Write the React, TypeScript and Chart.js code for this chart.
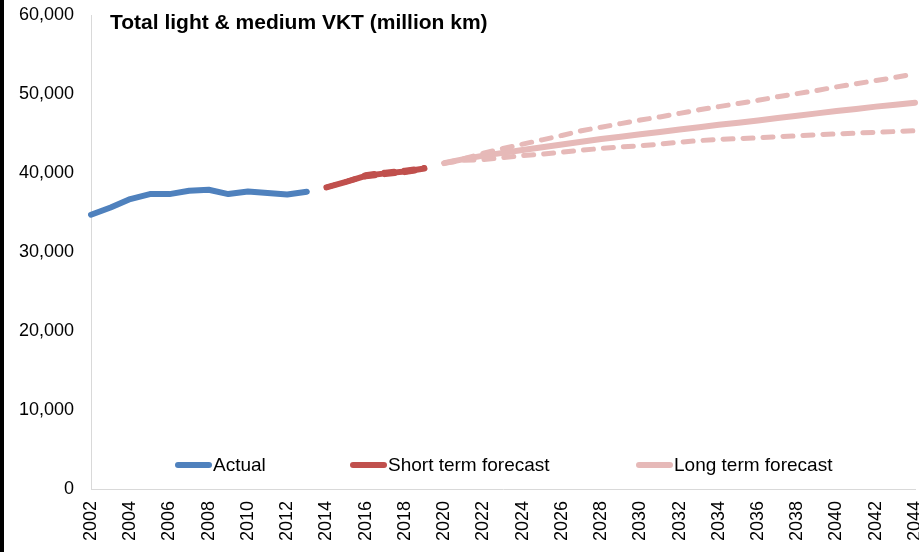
import React, { useEffect, useRef } from "react";
import { Chart, registerables } from "chart.js";

Chart.register(...registerables);

const years = [
  "2002", "2003", "2004", "2005", "2006", "2007", "2008", "2009", "2010", "2011",
  "2012", "2013", "2014", "2015", "2016", "2017", "2018", "2019", "2020", "2021",
  "2022", "2023", "2024", "2025", "2026", "2027", "2028", "2029", "2030", "2031",
  "2032", "2033", "2034", "2035", "2036", "2037", "2038", "2039", "2040", "2041",
  "2042", "2043", "2044",
];

const seriesNames = ["Actual", "Short term forecast", "Long term forecast"];
const chartTitle = "Total light & medium VKT (million km)";

// Actual: 2002-2013
const actualStart = "2002";
const actual = [34720, 35640, 36700, 37330, 37330, 37750, 37880, 37330, 37670, 37460, 37290, 37630];

// Short term forecast: 2014-2019
const shortStart = "2014";
const shortTerm = [38170, 38890, 39650, 39950, 40200, 40570];
const shortTermHigh = [38170, 38890, 39790, 40100, 40350, 40700];
const shortTermLow = [38170, 38890, 39520, 39800, 40050, 40440];

// Long term forecast: 2020-2044
const longStart = "2020";
const longTerm = [
  41250, 41750, 42200, 42550, 42900, 43250, 43600, 43950, 44300, 44600,
  44900, 45200, 45500, 45800, 46100, 46350, 46650, 46950, 47250, 47550,
  47850, 48100, 48400, 48650, 48900,
];
const longTermHigh = [
  41250, 41800, 42500, 43100, 43650, 44200, 44750, 45350, 45800, 46250,
  46700, 47100, 47550, 48000, 48400, 48800, 49200, 49650, 50050, 50450,
  50900, 51300, 51700, 52100, 52550,
];
const longTermLow = [
  41250, 41600, 41700, 41950, 42200, 42400, 42650, 42900, 43100, 43300,
  43450, 43650, 43900, 44100, 44250, 44350, 44450, 44600, 44700, 44850,
  44950, 45050, 45150, 45250, 45350,
];

const yMin = 0;
const yMax = 60000;
const yStep = 10000;

const BLUE = "#4F81BD";
const RED = "#C0504D";
const PINK = "#E6B9B8";
const FONT = "'Liberation Sans', Arial, sans-serif";

function place(values: number[], start: string): (number | null)[] {
  const out: (number | null)[] = years.map(() => null);
  const s = years.indexOf(start);
  values.forEach((v, i) => {
    out[s + i] = v;
  });
  return out;
}

const overlayPlugin = {
  id: "overlay",
  afterDraw(chart: any) {
    const ctx = chart.ctx as CanvasRenderingContext2D;
    const area = chart.chartArea;
    ctx.save();
    // title
    ctx.fillStyle = "#000";
    ctx.font = `bold 21px ${FONT}`;
    ctx.textBaseline = "middle";
    ctx.textAlign = "left";
    ctx.fillText(chartTitle, area.left + 19, area.top + 8);

    // legend
    const colors = [BLUE, RED, PINK];
    const starts = [175, 350, 636];
    const y = area.bottom - 24;
    ctx.font = `19px ${FONT}`;
    seriesNames.forEach((name, i) => {
      const x0 = starts[i];
      ctx.strokeStyle = colors[i];
      ctx.lineWidth = 6;
      ctx.lineCap = "round";
      ctx.beginPath();
      ctx.moveTo(x0 + 3, y);
      ctx.lineTo(x0 + 34, y);
      ctx.stroke();
      ctx.fillStyle = "#000";
      ctx.fillText(name, x0 + 38, y + 1);
    });
    ctx.restore();
  },
};

export default function App() {
  const canvasRef = useRef<HTMLCanvasElement | null>(null);

  useEffect(() => {
    if (!canvasRef.current) return;
    const dashed = [10, 10];
    const solidW = 6;
    const dashW = 5;
    const chart = new Chart(canvasRef.current, {
      type: "line",
      data: {
        labels: years,
        datasets: [
          {
            label: seriesNames[0],
            data: place(actual, actualStart),
            borderColor: BLUE,
            borderWidth: solidW,
            pointRadius: 0,
            borderCapStyle: "round",
            borderJoinStyle: "round",
          },
          {
            label: seriesNames[1] + " high",
            data: place(shortTermHigh, shortStart),
            borderColor: RED,
            borderWidth: dashW,
            borderDash: dashed,
            pointRadius: 0,
            borderCapStyle: "round",
          },
          {
            label: seriesNames[1] + " low",
            data: place(shortTermLow, shortStart),
            borderColor: RED,
            borderWidth: dashW,
            borderDash: dashed,
            pointRadius: 0,
            borderCapStyle: "round",
          },
          {
            label: seriesNames[1],
            data: place(shortTerm, shortStart),
            borderColor: RED,
            borderWidth: solidW,
            pointRadius: 0,
            borderCapStyle: "round",
            borderJoinStyle: "round",
          },
          {
            label: seriesNames[2] + " high",
            data: place(longTermHigh, longStart),
            borderColor: PINK,
            borderWidth: dashW,
            borderDash: dashed,
            pointRadius: 0,
            borderCapStyle: "round",
          },
          {
            label: seriesNames[2] + " low",
            data: place(longTermLow, longStart),
            borderColor: PINK,
            borderWidth: dashW,
            borderDash: dashed,
            pointRadius: 0,
            borderCapStyle: "round",
          },
          {
            label: seriesNames[2],
            data: place(longTerm, longStart),
            borderColor: PINK,
            borderWidth: solidW,
            pointRadius: 0,
            borderCapStyle: "round",
            borderJoinStyle: "round",
          },
        ],
      },
      options: {
        animation: false,
        responsive: false,
        devicePixelRatio: 1,
        layout: { padding: { top: 15, right: 4, left: 0, bottom: 0 } },
        plugins: {
          legend: { display: false },
          tooltip: { enabled: false },
          title: { display: false },
        },
        scales: {
          x: {
            type: "category",
            offset: false,
            grid: { display: false, drawTicks: false },
            border: { display: true, color: "#D9D9D9", width: 1 },
            ticks: {
              autoSkip: false,
              minRotation: 90,
              maxRotation: 90,
              padding: 12,
              color: "#000",
              font: { family: FONT, size: 18 },
              callback: (_v: any, i: number) => (i % 2 === 0 ? years[i] : ""),
            },
            afterFit: (scale: any) => {
              scale.height = 63;
              scale.paddingLeft = 0;
              scale.paddingRight = 0;
            },
          },
          y: {
            min: yMin,
            max: yMax,
            grid: { display: false, drawTicks: false },
            border: { display: true, color: "#D9D9D9", width: 1 },
            ticks: {
              stepSize: yStep,
              padding: 17,
              color: "#000",
              font: { family: FONT, size: 18 },
              callback: (v: any) => Number(v).toLocaleString("en-US"),
            },
            afterFit: (scale: any) => {
              scale.width = 91;
              scale.paddingTop = 0;
              scale.paddingBottom = 0;
            },
          },
        },
      },
      plugins: [overlayPlugin],
    });
    return () => chart.destroy();
  }, []);

  return (
    <div
      style={{
        position: "fixed",
        left: 0,
        top: 0,
        width: 919,
        height: 552,
        background: "#fff",
        overflow: "hidden",
      }}
    >
      <canvas ref={canvasRef} width={919} height={552} style={{ display: "block" }} />
      <div
        style={{
          position: "absolute",
          left: 0,
          top: 0,
          width: 4,
          height: 552,
          background: "#000",
        }}
      />
    </div>
  );
}
